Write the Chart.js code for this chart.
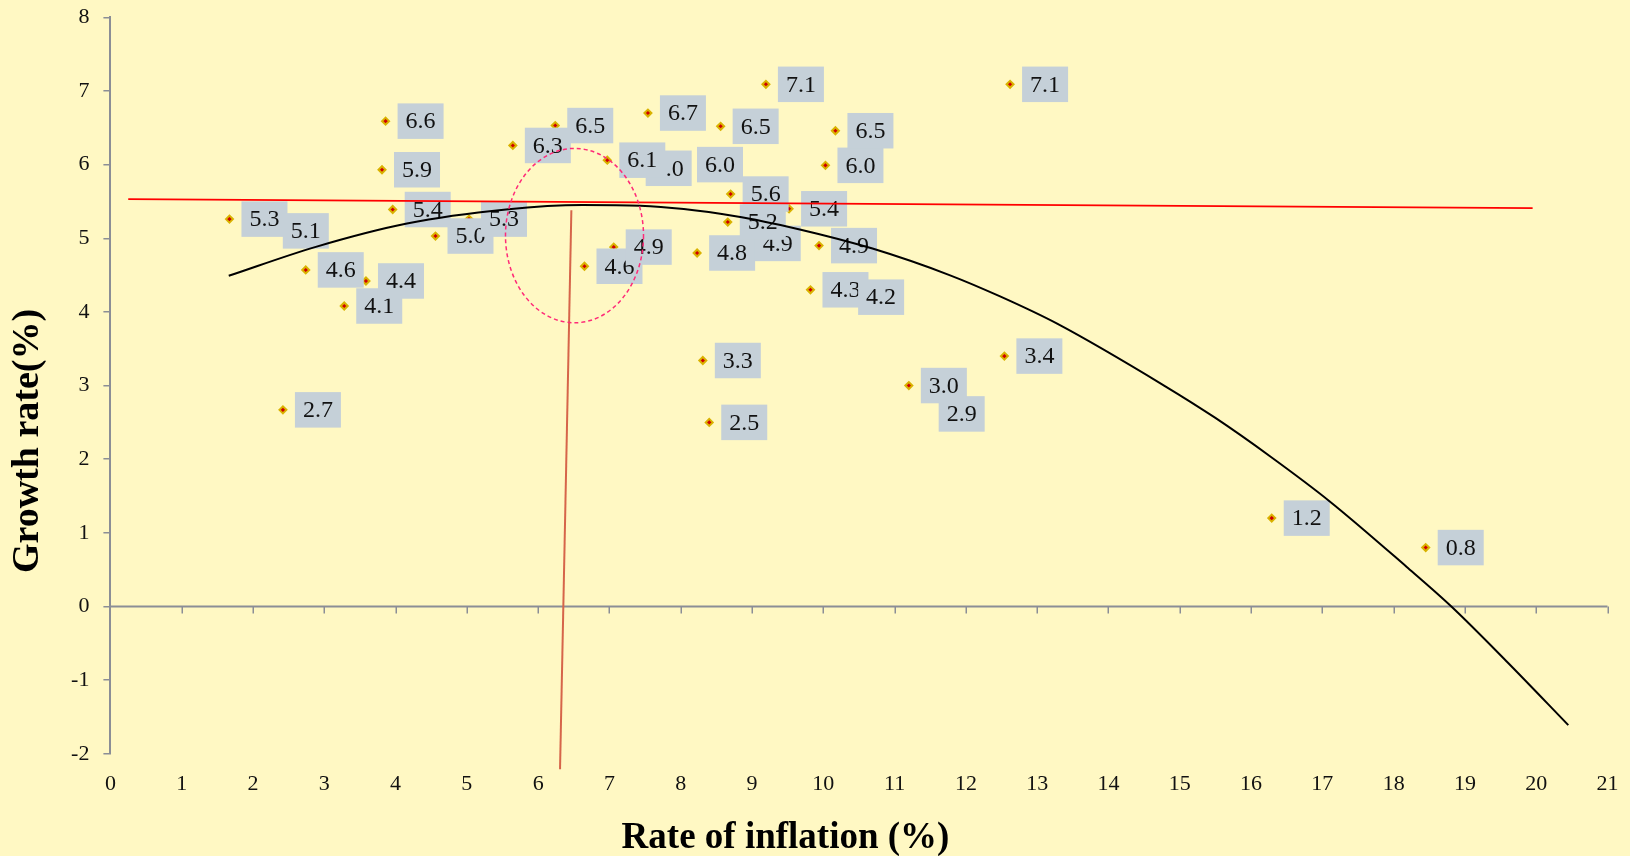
<!DOCTYPE html>
<html>
<head>
<meta charset="utf-8">
<script src="https://cdn.jsdelivr.net/npm/chart.js@4.4.0/dist/chart.umd.min.js"></script>
<style>
  html, body { margin: 0; padding: 0; background: #FFF8C3; }
  canvas { display: block; }
</style>
</head>
<body>
<canvas id="c" width="1630" height="856"></canvas>
<script>
// ---- data ----
const inflation = [1.67, 2.25, 2.42, 2.74, 3.28, 3.585, 3.81, 3.86, 3.96, 4.56, 5.03, 5.645, 6.24, 6.65, 7.06, 7.34, 6.97, 7.54, 8.06, 8.23, 8.31, 8.40, 8.56, 8.87, 8.66, 8.70, 9.195, 9.52, 9.82, 9.94, 10.03, 10.17, 10.32, 11.20, 11.45, 12.54, 12.62, 16.29, 18.45];
const growth    = [5.26, 5.10, 2.67, 4.57, 4.08, 4.42, 5.93, 6.59, 5.39, 5.03, 5.26, 6.26, 6.53, 4.62, 4.88, 5.95, 6.06, 6.70, 6.00, 4.80, 3.34, 2.50, 6.52, 4.93, 5.22, 5.60, 7.09, 5.40, 4.30, 4.90, 5.99, 6.46, 4.20, 3.00, 2.90, 3.40, 7.09, 1.20, 0.80];
const pointLabels = ["5.3","5.1","2.7","4.6","4.1","4.4","5.9","6.6","5.4","5.0","5.3","6.3","6.5","4.6","4.9","6.0","6.1","6.7","6.0","4.8","3.3","2.5","6.5","4.9","5.2","5.6","7.1","5.4","4.3","4.9","6.0","6.5","4.2","3.0","2.9","3.4","7.1","1.2","0.8"];

// polynomial trend curve
const curveX = [1.66, 2.87, 4.16, 5.55, 6.62, 7.43, 8.77, 9.67, 10.69, 11.77, 12.48, 13.28, 14.78, 15.50, 16.28, 17.10, 18.18, 18.81, 19.60, 20.45];
const curveY = [4.49, 4.88, 5.20, 5.39, 5.45, 5.44, 5.30, 5.12, 4.86, 4.50, 4.21, 3.84, 3.00, 2.56, 2.03, 1.43, 0.54, 0.00, -0.76, -1.61];

// red straight line and the vertical marker line
const flatLineX = [0.25, 19.95];
const flatLineY = [5.53, 5.41];
const markerLineX = [6.466, 6.307];
const markerLineY = [5.38, -2.21];

// dashed ellipse (data units)
const ellipseCenterX = 6.51, ellipseCenterY = 5.036;
const ellipseRadiusX = 0.968, ellipseRadiusY = 1.184;

// axis ticks
const xTickValues = [0,1,2,3,4,5,6,7,8,9,10,11,12,13,14,15,16,17,18,19,20,21];
const yTickValues = [-2,-1,0,1,2,3,4,5,6,7,8];

const xTitle = "Rate of inflation (%)";
const yTitle = "Growth rate(%)";

// ---- styling ----
const FONT = '"Liberation Serif", "Times New Roman", serif';
const AXIS = '#8b8e96';
const BG = '#FFF8C3';

const toXY = (xs, ys) => xs.map((x, i) => ({ x: x, y: ys[i] }));

const bgPlugin = {
  id: 'bg',
  beforeDraw(chart) {
    const c = chart.ctx;
    c.save();
    c.fillStyle = BG;
    c.fillRect(0, 0, chart.width, chart.height);
    c.restore();
  }
};

const zeroAxisPlugin = {
  id: 'zeroAxis',
  beforeDatasetsDraw(chart) {
    const c = chart.ctx, xs = chart.scales.x, ys = chart.scales.y;
    const y0 = ys.getPixelForValue(0);
    c.save();
    c.strokeStyle = AXIS;
    c.lineWidth = 2;
    c.beginPath();
    c.moveTo(xs.getPixelForValue(xTickValues[0]), y0);
    c.lineTo(xs.getPixelForValue(xTickValues[xTickValues.length - 1]), y0);
    c.stroke();
    c.lineWidth = 1.5;
    xTickValues.forEach(v => {
      if (v === 0) return;
      const px = Math.round(xs.getPixelForValue(v)) + 0.25;
      c.beginPath();
      c.moveTo(px, y0);
      c.lineTo(px, y0 + 7);
      c.stroke();
    });
    c.restore();
  }
};

const OBS_INDEX = 3;
const labelShiftY = { 34: 21 };   // one label dragged below its marker in the reference

const labelPlugin = {
  id: 'pointLabels',
  afterDatasetDraw(chart, args) {
    if (args.index !== OBS_INDEX) return;
    const c = chart.ctx;
    c.save();
    c.font = '24px ' + FONT;
    c.textBaseline = 'middle';
    c.textAlign = 'left';
    args.meta.data.forEach((el, i) => {
      const txt = pointLabels[i];
      const w = c.measureText(txt).width + 16;
      const h = 35.5;
      const left = el.x + 12;
      const cy = el.y + (labelShiftY[i] || 0);
      c.fillStyle = '#C5D0D8';
      c.fillRect(left, cy - h / 2, w, h);
      c.fillStyle = '#111111';
      c.fillText(txt, left + 8, cy + 1);
    });
    c.restore();
  }
};

const ellipsePlugin = {
  id: 'ellipse',
  afterDatasetsDraw(chart) {
    const c = chart.ctx, xs = chart.scales.x, ys = chart.scales.y;
    const cx = xs.getPixelForValue(ellipseCenterX);
    const cy = ys.getPixelForValue(ellipseCenterY);
    const rx = Math.abs(xs.getPixelForValue(ellipseCenterX + ellipseRadiusX) - cx);
    const ry = Math.abs(ys.getPixelForValue(ellipseCenterY + ellipseRadiusY) - cy);
    c.save();
    c.strokeStyle = '#FF2A78';
    c.lineWidth = 1.5;
    c.setLineDash([4, 3]);
    c.beginPath();
    c.ellipse(cx, cy, rx, ry, 0, 0, Math.PI * 2);
    c.stroke();
    c.restore();
  }
};

const titlePlugin = {
  id: 'axisTitles',
  afterDraw(chart) {
    const c = chart.ctx;
    c.save();
    c.fillStyle = '#000000';
    c.font = 'bold 37px ' + FONT;
    c.textAlign = 'center';
    c.textBaseline = 'alphabetic';
    c.fillText(xTitle, 785.5, 848);
    c.translate(38.3, 441);
    c.rotate(-Math.PI / 2);
    c.font = 'bold 38px ' + FONT;
    c.fillText(yTitle, 0, 0);
    c.restore();
  }
};

new Chart(document.getElementById('c'), {
  type: 'scatter',
  data: {
    datasets: [
      {
        label: 'Trend curve',
        data: toXY(curveX, curveY),
        showLine: true, fill: false,
        borderColor: '#000000', borderWidth: 2,
        pointRadius: 0, cubicInterpolationMode: 'monotone', order: 3
      },
      {
        label: 'Straight line',
        data: toXY(flatLineX, flatLineY),
        showLine: true, fill: false,
        borderColor: '#FF0000', borderWidth: 1.8,
        pointRadius: 0, order: 2
      },
      {
        label: 'Marker line',
        data: toXY(markerLineX, markerLineY),
        showLine: true, fill: false,
        borderColor: '#D6654A', borderWidth: 2,
        pointRadius: 0, order: 1, clip: false
      },
      {
        label: 'Observations',
        data: toXY(inflation, growth),
        pointStyle: 'rectRot', pointRadius: 3.5, pointHoverRadius: 3.5,
        borderWidth: 2, backgroundColor: '#D00000', borderColor: '#D9B200',
        order: 10
      }
    ]
  },
  options: {
    responsive: false,
    animation: false,
    devicePixelRatio: 1,
    events: [],
    layout: { padding: { left: 0, right: 22.5, top: 17.3, bottom: 0 } },
    plugins: { legend: { display: false }, tooltip: { enabled: false } },
    scales: {
      x: {
        type: 'linear', position: 'bottom', min: 0, max: 21,
        afterBuildTicks: s => { s.ticks = xTickValues.map(v => ({ value: v })); },
        afterFit: s => { s.height = 102.2; },
        grid: { display: false },
        border: { display: false },
        ticks: { autoSkip: false, maxRotation: 0, padding: 9, color: '#111111', font: { family: FONT, size: 22 } }
      },
      y: {
        type: 'linear', position: 'left', min: -2, max: 8,
        afterBuildTicks: s => { s.ticks = yTickValues.map(v => ({ value: v })); },
        afterFit: s => { s.width = 110.4; },
        grid: { display: true, drawOnChartArea: false, drawTicks: true, tickLength: 7, color: AXIS, lineWidth: 1.5 },
        border: { display: true, color: AXIS, width: 2 },
        ticks: { autoSkip: false, padding: 14, color: '#111111', font: { family: FONT, size: 22, lineHeight: 0.3 } }
      }
    }
  },
  plugins: [bgPlugin, zeroAxisPlugin, labelPlugin, ellipsePlugin, titlePlugin]
});
</script>
</body>
</html>
